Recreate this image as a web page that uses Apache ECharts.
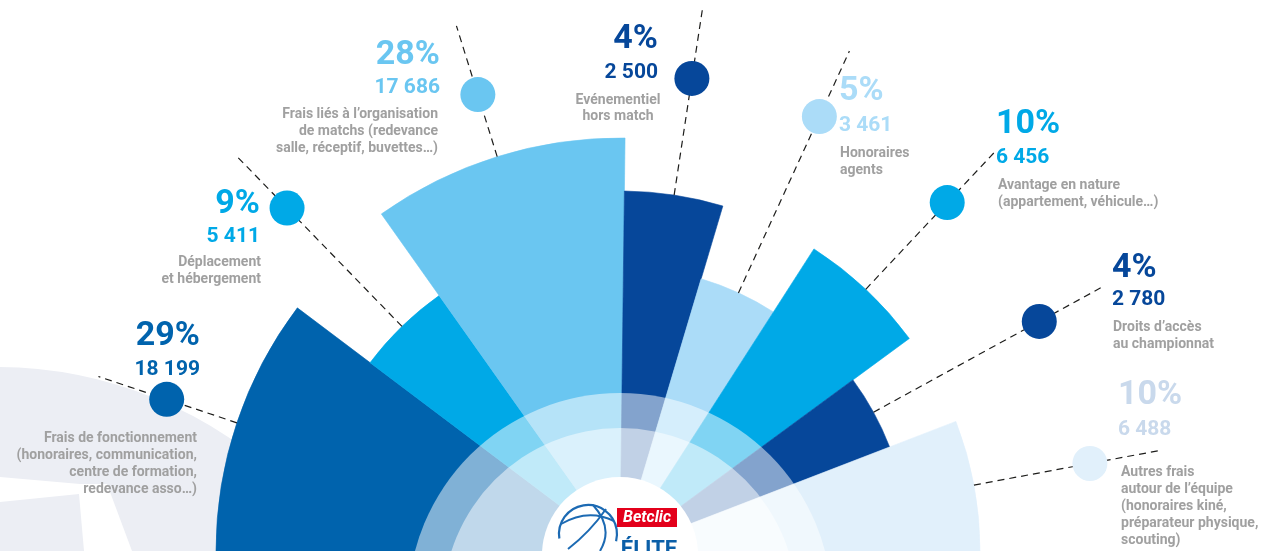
<!DOCTYPE html>
<html lang="fr">
<head>
<meta charset="UTF-8" />
<title>Répartition des charges</title>
<script src="https://cdn.jsdelivr.net/npm/echarts@6/dist/echarts.min.js"></script>
<style>
  html, body { margin: 0; padding: 0; background: #fff; }
  #main { width: 1264px; height: 551px; }
</style>
</head>
<body>
<div id="main"></div>
<script>
// postes de charges, de gauche à droite
var postes = [
  'Frais de fonctionnement\n(honoraires, communication,\ncentre de formation,\nredevance asso…)',
  'Déplacement\net hébergement',
  'Frais liés à l’organisation\nde matchs (redevance\nsalle, réceptif, buvettes…)',
  'Evénementiel\nhors match',
  'Honoraires\nagents',
  'Avantage en nature\n(appartement, véhicule…)',
  'Droits d’accès\nau championnat',
  'Autres frais\nautour de l’équipe\n(honoraires kiné,\npréparateur physique,\nscouting)'
];
var montants = [18199, 5411, 17686, 2500, 3461, 6456, 2780, 6488];
var parts = [29, 9, 28, 4, 5, 10, 4, 10];

var ouvertures = [37, 17.7, 36, 15.9, 16.1, 21, 15.2, 21.1];
var rayons = [404, 313, 413, 360, 284, 359, 289, 360];

var couleurs = ['#0063ad', '#00a9e7', '#6ac6f1', '#06479a', '#abdcf8', '#00a9e7', '#06479a', '#e1f0fb'];
var couleursTexte = ['#0063ad', '#00a9e7', '#6ac6f1', '#06479a', '#abdcf8', '#00a9e7', '#06479a', '#c9d9ec'];
var gris = '#a0a0a0';

var rayonPastille = 478;
var rayonTrait = 550;

// emplacement des textes
var etiquettes = [
  { x: 200, align: 'right', yPct: 336, yVal: 370, xDesc: 197, yDesc: 438 },
  { x: 260, align: 'right', yPct: 204, yVal: 237, xDesc: 261, yDesc: 262 },
  { x: 440, align: 'right', yPct: 55, yVal: 88, xDesc: 438, yDesc: 114 },
  { x: 658, align: 'right', yPct: 39, yVal: 73, xDesc: 618, yDesc: 100, alignDesc: 'center', lh: 16 },
  { x: 839, align: 'left', yPct: 91, yVal: 126, xDesc: 840, yDesc: 153 },
  { x: 996, align: 'left', yPct: 124, yVal: 158, xDesc: 998, yDesc: 185 },
  { x: 1112, align: 'left', yPct: 268, yVal: 300, xDesc: 1113, yDesc: 327 },
  { x: 1118, align: 'left', yPct: 395, yVal: 430, xDesc: 1121, yDesc: 472 }
];

function milliers(n) {
  return String(n).replace(/\B(?=(\d{3})+(?!\d))/g, ' ');
}

// secteurs : [début, fin, longueur, montant]
var secteurs = [];
var debut = 0;
ouvertures.forEach(function (o, i) {
  secteurs.push([debut, debut + o, rayons[i], montants[i]]);
  debut += o;
});

var pastilles = secteurs.map(function (s, i) {
  return { value: [rayonPastille, (s[0] + s[1]) / 2], itemStyle: { color: couleurs[i], opacity: 1 } };
});

var myChart = echarts.init(document.getElementById('main'));

function dessinSecteur(params, api) {
  var i = params.dataIndex;
  var a0 = api.value(0), a1 = api.value(1), r = api.value(2);
  var mid = (a0 + a1) / 2;
  var c = api.coord([0, mid]);
  function angle(p) { return Math.atan2(p[1] - c[1], p[0] - c[0]); }
  function dist(p) { return Math.sqrt((p[0] - c[0]) * (p[0] - c[0]) + (p[1] - c[1]) * (p[1] - c[1])); }
  var t0 = angle(api.coord([r, a0]));
  var t1 = angle(api.coord([r, a1]));
  if (t1 < t0) t1 += Math.PI * 2;
  var p1 = api.coord([r, mid]);
  var p2 = api.coord([rayonTrait, mid]);
  return {
    type: 'group',
    children: [
      {
        type: 'sector',
        shape: { cx: c[0], cy: c[1], r0: 0, r: dist(p1), startAngle: t0, endAngle: t1, clockwise: true },
        style: { fill: couleurs[i], stroke: couleurs[i], lineWidth: 0.6 }
      },
      {
        type: 'line',
        shape: { x1: p1[0], y1: p1[1], x2: p2[0], y2: p2[1] },
        style: { stroke: '#1d1d1b', lineWidth: 1.2, lineDash: [7, 5] }
      }
    ]
  };
}

// textes
var textes = [];
etiquettes.forEach(function (e, i) {
  textes.push({
    type: 'text', x: e.x, y: e.yPct, z: 50,
    style: { text: parts[i] + '%', fill: couleursTexte[i], fontSize: 34, fontWeight: 'bold', fontFamily: 'Roboto', align: e.align, verticalAlign: 'middle' }
  });
  textes.push({
    type: 'text', x: e.x, y: e.yVal, z: 50,
    style: { text: milliers(montants[i]), fill: couleursTexte[i], fontSize: 21, fontWeight: 'bold', fontFamily: 'Roboto', align: e.align, verticalAlign: 'middle' }
  });
  var lh = e.lh || 17;
  textes.push({
    type: 'text', x: e.xDesc, y: e.yDesc - lh / 2, z: 50,
    style: { text: postes[i], fill: gris, fontSize: 14, fontWeight: 'bold', fontFamily: 'Roboto', lineHeight: lh, align: e.alignDesc || e.align, verticalAlign: 'top' }
  });
});

// ballon en filigrane (bas gauche)
var decor = [
  { type: 'circle', z: -10, shape: { cx: -3, cy: 783, r: 416 }, style: { fill: '#eceef4' } },
  { type: 'polygon', z: -9, shape: { points: [[0, 477], [80, 484], [107, 484], [132, 551], [84, 551], [79, 494], [0, 502]] }, style: { fill: '#ffffff' } }
];

// voiles blancs du centre et logo
var centre = [
  { type: 'circle', z: 10, shape: { cx: 620, cy: 605, r: 212 }, style: { fill: 'rgba(255,255,255,0.5)' } },
  { type: 'circle', z: 11, shape: { cx: 620, cy: 605, r: 177 }, style: { fill: 'rgba(255,255,255,0.5)' } },
  { type: 'circle', z: 12, shape: { cx: 620, cy: 555, r: 78 }, style: { fill: '#ffffff' } }
];

var logo = [
  { type: 'arc', z: 60, shape: { cx: 588, cy: 534, r: 29, startAngle: Math.PI * 0.95, endAngle: Math.PI * 2.08 }, style: { stroke: '#1c6ab3', lineWidth: 2.2, fill: null } },
  { type: 'bezierCurve', z: 60, shape: { x1: 561, y1: 524, cpx1: 588, cpy1: 508, x2: 614, y2: 521 }, style: { stroke: '#1c6ab3', lineWidth: 2, fill: null } },
  { type: 'bezierCurve', z: 60, shape: { x1: 593, y1: 505, cpx1: 614, cpy1: 528, x2: 600, y2: 551 }, style: { stroke: '#1c6ab3', lineWidth: 2, fill: null } },
  { type: 'bezierCurve', z: 60, shape: { x1: 568, y1: 549, cpx1: 590, cpy1: 532, x2: 606, y2: 509 }, style: { stroke: '#1c6ab3', lineWidth: 2, fill: null } },
  { type: 'rect', z: 60, shape: { x: 617, y: 508, width: 60, height: 19 }, style: { fill: '#e3001b' } },
  { type: 'text', z: 61, x: 647, y: 518, style: { text: 'Betclic', fill: '#ffffff', fontSize: 16, fontWeight: 'bold', fontStyle: 'italic', fontFamily: 'Roboto', align: 'center', verticalAlign: 'middle' } },
  { type: 'text', z: 61, x: 649, y: 550, style: { text: 'ÉLITE', fill: '#0b5fa8', fontSize: 22, fontWeight: 'bold', fontFamily: 'Roboto', align: 'center', verticalAlign: 'middle' } }
];

var option = {
  animation: false,
  polar: { center: [620, 551], radius: 600 },
  angleAxis: {
    type: 'value', min: 0, max: 360, startAngle: 180, clockwise: true,
    axisLine: { show: false }, axisTick: { show: false }, axisLabel: { show: false }, splitLine: { show: false }
  },
  radiusAxis: {
    type: 'value', min: 0, max: 600,
    axisLine: { show: false }, axisTick: { show: false }, axisLabel: { show: false }, splitLine: { show: false }
  },
  graphic: { elements: decor.concat(centre, textes, logo) },
  series: [
    {
      type: 'custom',
      coordinateSystem: 'polar',
      data: secteurs,
      renderItem: dessinSecteur,
      silent: true,
      z: 2
    },
    {
      type: 'scatter',
      coordinateSystem: 'polar',
      data: pastilles,
      symbolSize: 35,
      itemStyle: { opacity: 1 },
      silent: true,
      z: 3
    }
  ]
};

myChart.setOption(option);
</script>
</body>
</html>
